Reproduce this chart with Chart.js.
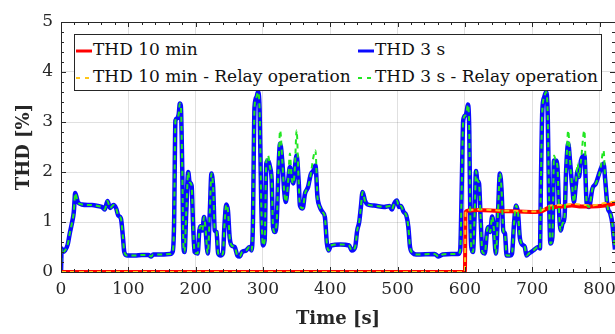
<!DOCTYPE html>
<html>
<head>
<meta charset="utf-8">
<script src="https://cdn.jsdelivr.net/npm/chart.js@4.4.1/dist/chart.umd.min.js"></script>
<style>
  html, body { margin: 0; padding: 0; background: #fff; }
  #wrap { position: relative; width: 615px; height: 334px; }
  #legend {
    position: absolute; left: 74px; top: 34px; width: 526px; height: 55px;
    border: 1px solid #262626; background: #fff;
    font-family: "DejaVu Serif", serif; font-size: 17px; color: #111;
  }
  .item { position: absolute; height: 22px; line-height: 22px; white-space: nowrap; }
  .item svg { vertical-align: middle; margin-right: 1px; }
</style>
</head>
<body>
<div id="wrap">
  <canvas id="chart" width="615" height="334"></canvas>
  <div id="legend"></div>
</div>
<script>
// time axis [s] and THD [%]
var t3s = [
  0, 1, 3, 6, 10, 13, 17, 19, 20, 21,
  23, 25, 31, 40, 46, 55, 61, 65, 69, 73,
  78, 82, 85, 89, 92, 94, 98, 110, 120, 130,
  134, 137, 150, 162, 166, 168, 170, 172, 175, 176.5,
  178, 180, 182, 183.5, 186, 189, 191, 194, 196, 198.5,
  203, 205.5, 208, 210, 212.5, 214.5, 218, 221, 223.5, 226,
  228.5, 231, 233.5, 237, 240.5, 243, 245.5, 248, 250.5, 253.5,
  258, 262, 265.5, 269, 275, 280, 283, 285, 287.5, 290.5,
  292.5, 295, 297.5, 300, 302.5, 305, 307.5, 310.5, 313, 315,
  317.5, 320.5, 323, 325.5, 329, 331.5, 334, 337.5, 340, 342.5,
  345, 347.5, 350, 353, 355, 359, 362.5, 367, 371, 375,
  378, 381, 384.5, 388.5, 392, 395, 397.5, 401, 415, 428,
  432, 437, 440, 443, 445.5, 448, 451.5, 455.5, 465, 480,
  488, 491.5, 495, 499, 502, 505, 509, 513, 516, 518.5,
  522.5, 527.5, 555, 561, 567, 580, 590, 593, 595.5, 597.5,
  600.5, 602.5, 604.5, 606.5, 608, 609.5, 612, 614.5, 616.5, 618.5,
  621, 623.5, 626, 629.5, 633, 635.5, 637.5, 640.5, 643, 646,
  649.5, 652, 654.5, 657, 659.5, 662, 667, 670, 673, 676,
  679, 681.5, 685, 689, 691.5, 695, 701.5, 709, 711.5, 713,
  715, 718, 720.5, 723, 725, 727, 730, 732.5, 735, 737.5,
  740, 742.5, 745, 748, 750.5, 753.5, 756.5, 759.5, 762, 764.5,
  767.5, 769.5, 772.5, 777.5, 781, 784.5, 789.5, 794.5, 801, 806,
  808.5, 812, 816, 819, 821, 823
];
var thd3s = [
  0, 0.47, 0.40, 0.43, 0.55, 0.77, 1.03, 1.20, 1.40, 1.58,
  1.50, 1.40, 1.35, 1.34, 1.34, 1.32, 1.30, 1.25, 1.42, 1.28,
  1.34, 1.27, 1.13, 1.07, 0.70, 0.40, 0.33, 0.33, 0.34, 0.34,
  0.31, 0.35, 0.35, 0.36, 0.41, 0.97, 3.03, 3.07, 3.17, 3.37,
  3.33, 2.17, 0.50, 0.40, 1.17, 2.00, 1.80, 1.73, 1.03, 0.40,
  0.37, 0.83, 0.92, 0.83, 1.10, 0.90, 0.37, 1.17, 1.97, 1.70,
  0.83, 0.80, 0.37, 0.33, 0.37, 0.97, 1.35, 1.23, 0.70, 0.53,
  0.50, 0.33, 0.31, 0.40, 0.43, 0.50, 0.43, 0.90, 3.30, 3.50,
  3.60, 3.27, 1.37, 0.53, 0.63, 2.17, 2.23, 2.10, 1.83, 0.90,
  0.80, 1.03, 2.03, 2.57, 2.17, 1.63, 1.40, 1.83, 2.10, 1.90,
  1.77, 2.10, 2.33, 1.83, 1.33, 1.27, 1.57, 1.70, 1.95, 2.03,
  2.13, 1.50, 1.30, 1.20, 1.10, 0.57, 0.43, 0.53, 0.55, 0.53,
  0.43, 0.50, 0.83, 1.00, 1.30, 1.60, 1.43, 1.35, 1.33, 1.30,
  1.32, 1.25, 1.37, 1.43, 1.30, 1.32, 1.20, 1.13, 0.90, 0.50,
  0.38, 0.35, 0.36, 0.31, 0.35, 0.36, 0.36, 0.43, 1.83, 3.03,
  3.13, 3.20, 3.35, 2.83, 1.17, 0.50, 0.40, 1.17, 2.02, 1.83,
  1.77, 1.03, 0.40, 0.37, 0.83, 0.90, 0.80, 1.11, 0.87, 0.37,
  1.30, 1.97, 1.63, 0.83, 0.77, 0.33, 0.33, 0.37, 0.97, 1.33,
  1.17, 0.70, 0.55, 0.50, 0.33, 0.37, 0.43, 0.50, 0.47, 1.83,
  3.23, 3.50, 3.60, 3.17, 1.50, 0.57, 0.70, 2.23, 2.23, 2.10,
  1.17, 0.83, 0.97, 1.10, 2.07, 2.57, 2.17, 1.70, 1.40, 1.70,
  2.03, 1.90, 2.23, 2.33, 1.37, 1.30, 1.67, 1.77, 2.03, 2.17,
  1.83, 1.30, 1.17, 0.97, 0.70, 0.45
];
var thd3sRelay = [
  0, 0.47, 0.40, 0.43, 0.55, 0.77, 1.03, 1.20, 1.40, 1.58,
  1.50, 1.40, 1.35, 1.34, 1.34, 1.32, 1.30, 1.25, 1.42, 1.28,
  1.34, 1.27, 1.13, 1.07, 0.70, 0.40, 0.33, 0.33, 0.34, 0.34,
  0.31, 0.35, 0.35, 0.36, 0.41, 0.97, 3.03, 3.07, 3.17, 3.37,
  3.33, 2.17, 0.50, 0.40, 1.17, 2.00, 1.80, 1.73, 1.03, 0.40,
  0.37, 0.83, 0.92, 0.83, 1.10, 0.90, 0.37, 1.17, 1.97, 1.70,
  0.83, 0.80, 0.37, 0.33, 0.37, 0.97, 1.35, 1.23, 0.70, 0.53,
  0.50, 0.33, 0.31, 0.40, 0.43, 0.50, 0.43, 0.90, 3.30, 3.50,
  3.60, 3.27, 1.37, 0.53, 0.63, 2.20, 2.33, 2.10, 1.83, 0.90,
  0.80, 1.03, 2.03, 2.83, 2.17, 1.63, 1.40, 1.83, 2.37, 1.90,
  1.77, 2.10, 2.83, 1.83, 1.33, 1.27, 1.57, 1.70, 1.95, 2.30,
  2.43, 1.50, 1.30, 1.20, 1.10, 0.57, 0.43, 0.53, 0.55, 0.53,
  0.43, 0.50, 0.83, 1.00, 1.30, 1.60, 1.43, 1.35, 1.33, 1.30,
  1.32, 1.25, 1.37, 1.43, 1.30, 1.32, 1.20, 1.13, 0.90, 0.50,
  0.38, 0.35, 0.36, 0.31, 0.35, 0.36, 0.36, 0.43, 1.83, 3.03,
  3.13, 3.20, 3.35, 2.83, 1.17, 0.50, 0.40, 1.17, 2.02, 1.83,
  1.77, 1.03, 0.40, 0.37, 0.83, 0.90, 0.80, 1.11, 0.87, 0.37,
  1.30, 1.97, 1.63, 0.83, 0.77, 0.33, 0.33, 0.37, 0.97, 1.33,
  1.17, 0.70, 0.55, 0.50, 0.33, 0.37, 0.43, 0.50, 0.47, 1.83,
  3.23, 3.50, 3.60, 3.17, 1.50, 0.57, 0.70, 2.33, 2.23, 2.10,
  1.17, 0.83, 0.97, 1.10, 2.07, 2.83, 2.17, 1.70, 1.40, 1.70,
  2.17, 1.90, 2.23, 2.83, 1.37, 1.30, 1.67, 1.77, 2.03, 2.43,
  1.83, 1.30, 1.17, 0.97, 0.70, 0.45
];

var t10m = [0, 600, 601, 605, 620, 650, 680, 705, 715, 724, 744, 759, 773, 788, 808, 823];
var thd10m = [0, 0, 1.20, 1.23, 1.24, 1.22, 1.21, 1.20, 1.22, 1.28, 1.31, 1.33, 1.31, 1.31, 1.33, 1.37];
var thd10mRelay = [0, 0, 1.22, 1.24, 1.25, 1.23, 1.22, 1.21, 1.24, 1.32, 1.34, 1.36, 1.35, 1.33, 1.38, 1.41];

var xTicks = [0, 100, 200, 300, 400, 500, 600, 700, 800];
var yTicks = [0, 1, 2, 3, 4, 5];

function pts(xs, ys) {
  return xs.map(function(x, i) { return { x: x, y: ys[i] }; });
}

var series = [
  { label: 'THD 3 s - Relay operation', data: pts(t3s, thd3sRelay), color: '#22e622', width: 2, dash: [5, 4] },
  { label: 'THD 10 min - Relay operation', data: pts(t10m, thd10mRelay), color: '#ffc61a', width: 2, dash: [5, 4] },
  { label: 'THD 10 min', data: pts(t10m, thd10m), color: '#ff0000', width: 4, dash: [] },
  { label: 'THD 3 s', data: pts(t3s, thd3s), color: '#0a0aff', width: 4.5, dash: [] }
];

function isMajor(v, list) {
  return list.some(function(m) { return Math.abs(m - v) < 1e-6; });
}

// inner tick marks on all four sides + box
var boxTicks = {
  id: 'boxTicks',
  afterDatasetsDraw: function(chart) {
    var ctx = chart.ctx, a = chart.chartArea;
    var xs = chart.scales.x, ys = chart.scales.y;
    ctx.save();
    ctx.strokeStyle = '#262626';
    ctx.lineWidth = 1;
    ctx.beginPath();
    xs.ticks.forEach(function(tk) {
      var px = Math.round(xs.getPixelForValue(tk.value)) + 0.5;
      var len = isMajor(tk.value, xTicks) ? 5 : 3;
      ctx.moveTo(px, a.bottom); ctx.lineTo(px, a.bottom - len);
      ctx.moveTo(px, a.top); ctx.lineTo(px, a.top + len);
    });
    ys.ticks.forEach(function(tk) {
      var py = Math.round(ys.getPixelForValue(tk.value)) + 0.5;
      var len = isMajor(tk.value, yTicks) ? 5 : 3;
      ctx.moveTo(a.left, py); ctx.lineTo(a.left + len, py);
      ctx.moveTo(a.right, py); ctx.lineTo(a.right - len, py);
    });
    ctx.stroke();
    ctx.strokeRect(Math.round(a.left) + 0.5, Math.round(a.top) + 0.5,
      Math.round(a.right - a.left), Math.round(a.bottom - a.top));
    ctx.restore();
  }
};

var tickFont = { family: 'DejaVu Serif', size: 17 };
var titleFont = { family: 'DejaVu Serif', size: 18, weight: 'bold' };

var chart = new Chart(document.getElementById('chart').getContext('2d'), {
  type: 'line',
  data: {
    datasets: series.map(function(s) {
      return {
        label: s.label, data: s.data, borderColor: s.color, backgroundColor: s.color,
        borderWidth: s.width, borderDash: s.dash, pointRadius: 0, fill: false,
        cubicInterpolationMode: 'monotone', tension: 0.4
      };
    })
  },
  options: {
    responsive: false,
    animation: false,
    devicePixelRatio: 1,
    layout: { padding: { top: 22, right: 0, left: 0, bottom: 0 } },
    plugins: { legend: { display: false }, tooltip: { enabled: false } },
    scales: {
      x: {
        type: 'linear', min: 0, max: 823,
        afterFit: function(s) { s.height = 62; s.paddingRight = 0; },
        ticks: {
          stepSize: 20, autoSkip: false, maxRotation: 0, padding: 7,
          color: '#262626', font: tickFont,
          callback: function(v) { return isMajor(v, xTicks) ? v : ''; }
        },
        grid: {
          drawTicks: false,
          color: function(c) { return isMajor(c.tick.value, xTicks) ? 'rgba(0,0,0,0.12)' : 'rgba(0,0,0,0)'; }
        },
        border: { display: false },
        title: { display: true, text: 'Time [s]', color: '#262626', font: titleFont, padding: { top: 0, bottom: 4 } }
      },
      y: {
        type: 'linear', min: 0, max: 5,
        afterFit: function(s) { s.width = 61; },
        ticks: {
          stepSize: 0.2, autoSkip: false, padding: 8,
          color: '#262626', font: tickFont,
          callback: function(v) { return isMajor(v, yTicks) ? Math.round(v) : ''; }
        },
        grid: {
          drawTicks: false,
          color: function(c) { return isMajor(c.tick.value, yTicks) ? 'rgba(0,0,0,0.12)' : 'rgba(0,0,0,0)'; }
        },
        border: { display: false },
        title: { display: true, text: 'THD [%]', color: '#262626', font: titleFont, padding: { top: 14, bottom: 0 } }
      }
    }
  },
  plugins: [boxTicks]
});

// legend (MATLAB style, 2 columns, row-wise)
var legendOrder = [
  { s: series[2], left: 1, top: 3 },
  { s: series[3], left: 283, top: 3 },
  { s: series[1], left: 1, top: 30 },
  { s: series[0], left: 283, top: 30 }
];
var lg = document.getElementById('legend');
legendOrder.forEach(function(o) {
  var d = document.createElement('div');
  d.className = 'item';
  d.style.left = o.left + 'px';
  d.style.top = o.top + 'px';
  var dash = o.s.dash.length ? ' stroke-dasharray="4 5"' : '';
  d.innerHTML = '<svg width="16" height="8"><line x1="0" y1="4" x2="16" y2="4" stroke="' + o.s.color +
    '" stroke-width="' + (o.s.dash.length ? 2 : 3) + '"' + dash + '/></svg>' + o.s.label;
  lg.appendChild(d);
});
</script>
</body>
</html>
